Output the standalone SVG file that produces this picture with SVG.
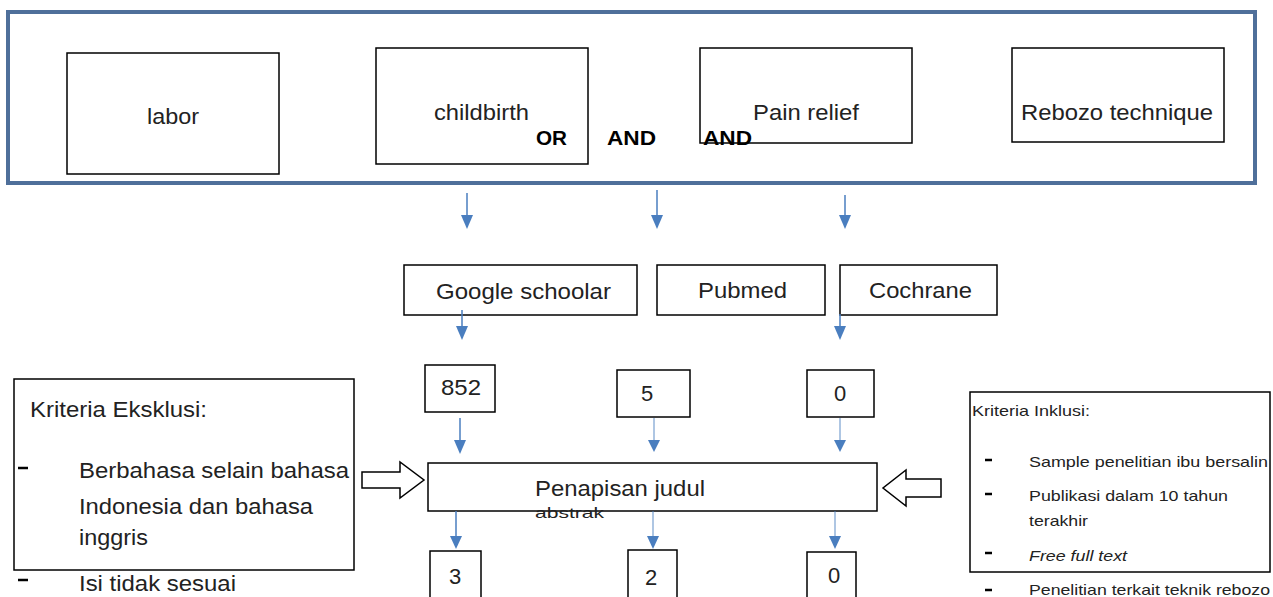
<svg xmlns="http://www.w3.org/2000/svg" width="1273" height="597" viewBox="0 0 1273 597">
<style>
text{lengthAdjust:spacingAndGlyphs}
.box{fill:#fff;stroke:#000;stroke-width:1.5}
.t{font-family:"Liberation Sans",Arial,sans-serif;font-size:22px;fill:#222}
.s{font-family:"Liberation Sans",Arial,sans-serif;font-size:15px;fill:#222}
.b{font-family:"Liberation Sans",Arial,sans-serif;font-size:20px;font-weight:bold;fill:#000}
.c{stroke:#4a7ebf;stroke-width:1.5;fill:none}
.h{fill:#4a7ebf}
.hol{fill:#fff;stroke:#000;stroke-width:1.5}
.dash{stroke:#000;stroke-width:2.5}
</style>
<rect x="0" y="0" width="1273" height="597" fill="#fff"/>
<rect id="frame" x="8" y="12" width="1247" height="171" fill="none" stroke="#4f6f9a" stroke-width="4"/>
<g id="labor"><rect class="box" x="67" y="53" width="212" height="121"/><text class="t" x="147" y="124" textLength="52" lengthAdjust="spacingAndGlyphs">labor</text></g>
<g id="childbirth"><rect class="box" x="376" y="48" width="212" height="116"/><text class="t" x="434" y="120" textLength="95" lengthAdjust="spacingAndGlyphs">childbirth</text></g>
<g id="painrelief"><rect class="box" x="700" y="48" width="212" height="95"/><text class="t" x="753" y="120" textLength="106" lengthAdjust="spacingAndGlyphs">Pain relief</text></g>
<g id="rebozo"><rect class="box" x="1012" y="48" width="212" height="94"/><text class="t" x="1021" y="120" textLength="192" lengthAdjust="spacingAndGlyphs">Rebozo technique</text></g>
<g id="ops">
<text class="b" x="536" y="145" textLength="31" lengthAdjust="spacingAndGlyphs">OR</text>
<text class="b" x="607" y="145" textLength="49" lengthAdjust="spacingAndGlyphs">AND</text>
<text class="b" x="703" y="145" textLength="49" lengthAdjust="spacingAndGlyphs">AND</text>
</g>
<g id="google"><rect class="box" x="404" y="265" width="233" height="50"/><text class="t" x="436" y="299" textLength="175" lengthAdjust="spacingAndGlyphs">Google schoolar</text></g>
<g id="pubmed"><rect class="box" x="657" y="265" width="168" height="50"/><text class="t" x="698" y="298" textLength="89" lengthAdjust="spacingAndGlyphs">Pubmed</text></g>
<g id="cochrane"><rect class="box" x="840" y="265" width="157" height="50"/><text class="t" x="869" y="298" textLength="103" lengthAdjust="spacingAndGlyphs">Cochrane</text></g>
<g id="n852"><rect class="box" x="425" y="365" width="70" height="47"/><text class="t" x="441" y="395" textLength="40" lengthAdjust="spacingAndGlyphs">852</text></g>
<g id="n5"><rect class="box" x="617" y="370" width="73" height="47"/><text class="t" x="641" y="401">5</text></g>
<g id="n0a"><rect class="box" x="807" y="370" width="67" height="47"/><text class="t" x="834" y="401">0</text></g>
<g id="penapisan"><rect class="box" x="428" y="463" width="449" height="48"/><text class="t" x="535" y="496" textLength="170" lengthAdjust="spacingAndGlyphs">Penapisan judul</text><text class="s" x="535" y="518" font-size="17" textLength="69" lengthAdjust="spacingAndGlyphs">abstrak</text></g>
<g id="n3"><rect class="box" x="430" y="551" width="51" height="50"/><text class="t" x="449" y="584">3</text></g>
<g id="n2"><rect class="box" x="628" y="550" width="49" height="50"/><text class="t" x="645" y="585">2</text></g>
<g id="n0b"><rect class="box" x="807" y="552" width="49" height="50"/><text class="t" x="828" y="583">0</text></g>
<g id="eksklusi">
<rect class="box" x="14" y="379" width="340" height="191"/>
<text class="t" x="30" y="417" textLength="177" lengthAdjust="spacingAndGlyphs">Kriteria Eksklusi:</text>
<line class="dash" x1="18" y1="468" x2="28" y2="468"/>
<text class="t" x="79" y="478" textLength="270" lengthAdjust="spacingAndGlyphs">Berbahasa selain bahasa</text>
<text class="t" x="79" y="514" textLength="234" lengthAdjust="spacingAndGlyphs">Indonesia dan bahasa</text>
<text class="t" x="79" y="545" textLength="69" lengthAdjust="spacingAndGlyphs">inggris</text>
<line class="dash" x1="18" y1="580" x2="28" y2="580"/>
<text class="t" x="79" y="591" textLength="157" lengthAdjust="spacingAndGlyphs">Isi tidak sesuai</text>
</g>
<g id="inklusi">
<rect class="box" x="970" y="392" width="300" height="180"/>
<text class="s" x="972" y="416" textLength="118" lengthAdjust="spacingAndGlyphs">Kriteria Inklusi:</text>
<line class="dash" x1="985" y1="460" x2="992" y2="460"/>
<text class="s" x="1029" y="467" textLength="239" lengthAdjust="spacingAndGlyphs">Sample penelitian ibu bersalin</text>
<line class="dash" x1="985" y1="494" x2="992" y2="494"/>
<text class="s" x="1029" y="501" textLength="199" lengthAdjust="spacingAndGlyphs">Publikasi dalam 10 tahun</text>
<text class="s" x="1029" y="526" textLength="59" lengthAdjust="spacingAndGlyphs">terakhir</text>
<line class="dash" x1="985" y1="553" x2="992" y2="553"/>
<text class="s" x="1029" y="561" font-style="italic" textLength="98" lengthAdjust="spacingAndGlyphs">Free full text</text>
<line class="dash" x1="985" y1="590" x2="992" y2="590"/>
<text class="s" x="1029" y="595" textLength="241" lengthAdjust="spacingAndGlyphs">Penelitian terkait teknik rebozo</text>
</g>
<g id="connectors">
<line class="c" x1="467" y1="193" x2="467" y2="216"/><polygon class="h" points="461,215 473,215 467,229"/>
<line class="c" x1="657" y1="190" x2="657" y2="216"/><polygon class="h" points="651,215 663,215 657,229"/>
<line class="c" x1="845" y1="195" x2="845" y2="216"/><polygon class="h" points="839,215 851,215 845,229"/>
<line class="c" x1="462" y1="310" x2="462" y2="327"/><polygon class="h" points="456,326 468,326 462,340"/>
<line class="c" x1="840" y1="314" x2="840" y2="327"/><polygon class="h" points="834,326 846,326 840,340"/>
<line class="c" x1="460" y1="418" x2="460" y2="441"/><polygon class="h" points="454,440 466,440 460,454"/>
<line class="c" x1="654" y1="418" x2="654" y2="441" stroke-opacity="0.6"/><polygon class="h" points="648,440 660,440 654,452"/>
<line class="c" x1="840" y1="418" x2="840" y2="441" stroke-opacity="0.6"/><polygon class="h" points="834,440 846,440 840,452"/>
<line class="c" x1="456" y1="511" x2="456" y2="537"/><polygon class="h" points="450,536 462,536 456,549"/>
<line class="c" x1="653" y1="511" x2="653" y2="537" stroke-opacity="0.6"/><polygon class="h" points="647,536 659,536 653,549"/>
<line class="c" x1="835" y1="511" x2="835" y2="537" stroke-opacity="0.6"/><polygon class="h" points="829,536 841,536 835,549"/>
<polygon class="hol" points="362,472 400,472 400,462 424,480 400,498 400,488 362,488"/>
<polygon class="hol" points="941,479 906,479 906,470 883,488 906,506 906,497 941,497"/>
</g>
</svg>
